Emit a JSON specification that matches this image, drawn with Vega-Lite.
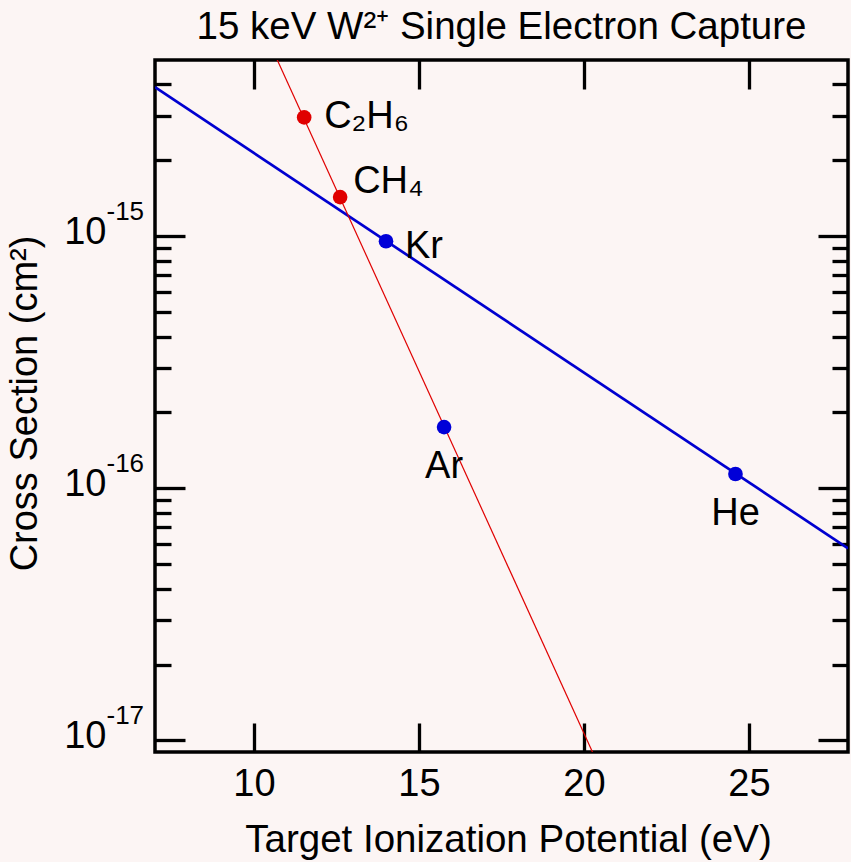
{
  "$schema": "https://vega.github.io/schema/vega-lite/v6.json",
  "width": 693,
  "height": 692,
  "autosize": {"type": "none"},
  "padding": {"left": 155, "top": 60, "right": 3, "bottom": 110},
  "background": "#fcf5f4",
  "title": {
    "text": "15 keV W²⁺ Single Electron Capture",
    "font": "Liberation Sans",
    "fontSize": 38.5,
    "fontWeight": "normal",
    "color": "black",
    "anchor": "middle",
    "baseline": "alphabetic",
    "offset": 22,
    "dy": 41
  },
  "config": {
    "view": {"stroke": "black", "strokeWidth": 3.5},
    "axis": {
      "domain": false,
      "grid": false,
      "ticks": true,
      "tickColor": "black",
      "tickWidth": 3.3,
      "labelFont": "Liberation Sans",
      "labelFontSize": 38,
      "labelColor": "black",
      "labelFlush": false,
      "labelOverlap": false,
      "titleFont": "Liberation Sans",
      "titleFontSize": 38,
      "titleFontWeight": "normal",
      "titleColor": "black"
    }
  },
  "datasets": {
    "targets": [
      {"target": "C₂H₆", "ip": 11.52, "cs": 2.96e-15, "kind": "molecule"},
      {"target": "CH₄", "ip": 12.61, "cs": 1.43e-15, "kind": "molecule"},
      {"target": "Kr", "ip": 14.0, "cs": 9.55e-16, "kind": "rare gas"},
      {"target": "Ar", "ip": 15.76, "cs": 1.75e-16, "kind": "rare gas"},
      {"target": "He", "ip": 24.59, "cs": 1.14e-16, "kind": "rare gas"}
    ],
    "fits": [
      {"fit": "Kr-He", "ip": 7, "cs": 3.9e-15},
      {"fit": "Kr-He", "ip": 28, "cs": 5.78e-17},
      {"fit": "hydrocarbon-Ar", "ip": 10.5, "cs": 5.73e-15},
      {"fit": "hydrocarbon-Ar", "ip": 20.5, "cs": 7.66e-18}
    ]
  },
  "layer": [
    {
      "data": {"name": "fits"},
      "transform": [{"filter": "datum.fit === 'Kr-He'"}],
      "mark": {"type": "line", "color": "#0000d0", "strokeWidth": 2.7, "clip": true},
      "encoding": {
        "x": {
          "field": "ip", "type": "quantitative",
          "scale": {"domain": [7, 28], "nice": false, "zero": false},
          "axis": {
            "orient": "bottom",
            "values": [10, 15, 20, 25],
            "tickSize": -29,
            "labelPadding": 72,
            "labelBaseline": "alphabetic",
            "title": "Target Ionization Potential (eV)",
            "titleFontSize": 38.5,
            "titleX": 353,
            "titleY": 99,
            "titleAlign": "center",
            "titleBaseline": "alphabetic"
          }
        },
        "y": {
          "field": "cs", "type": "quantitative",
          "scale": {"type": "log", "domain": [9e-18, 5e-15], "nice": false},
          "axis": {
            "orient": "left",
            "values": [1e-17, 1e-16, 1e-15],
            "tickSize": -30,
            "labelPadding": 79,
            "labelAlign": "right",
            "labelBaseline": "alphabetic",
            "labelOffset": 7,
            "labelExpr": "'10'",
            "title": "Cross Section (cm²)",
            "titleAngle": -90,
            "titleX": -119,
            "titleY": 343,
            "titleAlign": "center",
            "titleBaseline": "alphabetic"
          }
        }
      }
    },
    {
      "data": {"name": "fits"},
      "transform": [{"filter": "datum.fit === 'hydrocarbon-Ar'"}],
      "mark": {"type": "line", "color": "#e00000", "strokeWidth": 1.2, "clip": true},
      "encoding": {
        "x": {
          "field": "ip", "type": "quantitative",
          "axis": {"orient": "top", "values": [10, 15, 20, 25], "tickSize": -29, "labels": false, "title": null}
        },
        "y": {
          "field": "cs", "type": "quantitative",
          "axis": {
            "orient": "left",
            "values": [2e-17, 3e-17, 4e-17, 5e-17, 6e-17, 7e-17, 8e-17, 9e-17, 2e-16, 3e-16, 4e-16, 5e-16, 6e-16, 7e-16, 8e-16, 9e-16, 2e-15, 3e-15, 4e-15],
            "tickSize": -16,
            "labels": false,
            "title": null
          }
        }
      }
    },
    {
      "data": {"name": "targets"},
      "mark": {"type": "circle", "size": 215, "opacity": 1},
      "encoding": {
        "x": {"field": "ip", "type": "quantitative", "axis": null},
        "y": {
          "field": "cs", "type": "quantitative",
          "axis": {"orient": "right", "values": [1e-17, 1e-16, 1e-15], "tickSize": -30, "labels": false, "title": null}
        },
        "color": {
          "field": "kind", "type": "nominal",
          "scale": {"domain": ["molecule", "rare gas"], "range": ["#e00000", "#0000d8"]},
          "legend": null
        }
      }
    },
    {
      "data": {"name": "targets"},
      "transform": [{"filter": "datum.target === 'C₂H₆'"}],
      "mark": {"type": "text", "font": "Liberation Sans", "fontSize": 38, "color": "black", "align": "left", "baseline": "alphabetic", "dx": 20, "dy": 11},
      "encoding": {
        "x": {"field": "ip", "type": "quantitative", "axis": null},
        "y": {
          "field": "cs", "type": "quantitative",
          "axis": {
            "orient": "right",
            "values": [2e-17, 3e-17, 4e-17, 5e-17, 6e-17, 7e-17, 8e-17, 9e-17, 2e-16, 3e-16, 4e-16, 5e-16, 6e-16, 7e-16, 8e-16, 9e-16, 2e-15, 3e-15, 4e-15],
            "tickSize": -16,
            "labels": false,
            "title": null
          }
        },
        "text": {"field": "target"}
      }
    },
    {
      "data": {"name": "targets"},
      "transform": [{"filter": "datum.target === 'CH₄'"}],
      "mark": {"type": "text", "font": "Liberation Sans", "fontSize": 38, "color": "black", "align": "left", "baseline": "alphabetic", "dx": 13, "dy": -4},
      "encoding": {
        "x": {"field": "ip", "type": "quantitative", "axis": null},
        "y": {
          "field": "cs", "type": "quantitative",
          "axis": {
            "orient": "left",
            "values": [1e-17, 1e-16, 1e-15],
            "tickSize": 0,
            "tickWidth": 0,
            "labelPadding": 49,
            "labelAlign": "left",
            "labelBaseline": "alphabetic",
            "labelOffset": -17,
            "labelFontSize": 26,
            "labelExpr": "datum.value > 5e-16 ? '-15' : datum.value > 5e-17 ? '-16' : '-17'",
            "title": null
          }
        },
        "text": {"field": "target"}
      }
    },
    {
      "data": {"name": "targets"},
      "transform": [{"filter": "datum.target === 'Kr'"}],
      "mark": {"type": "text", "font": "Liberation Sans", "fontSize": 38, "color": "black", "align": "left", "baseline": "alphabetic", "dx": 19, "dy": 17},
      "encoding": {
        "x": {"field": "ip", "type": "quantitative", "axis": null},
        "y": {"field": "cs", "type": "quantitative", "axis": null},
        "text": {"field": "target"}
      }
    },
    {
      "data": {"name": "targets"},
      "transform": [{"filter": "datum.target === 'Ar' || datum.target === 'He'"}],
      "mark": {"type": "text", "font": "Liberation Sans", "fontSize": 38, "color": "black", "align": "center", "baseline": "alphabetic", "dx": 0, "dy": 51},
      "encoding": {
        "x": {"field": "ip", "type": "quantitative", "axis": null},
        "y": {"field": "cs", "type": "quantitative", "axis": null},
        "text": {"field": "target"}
      }
    }
  ],
  "resolve": {"axis": {"x": "independent", "y": "independent"}}
}
